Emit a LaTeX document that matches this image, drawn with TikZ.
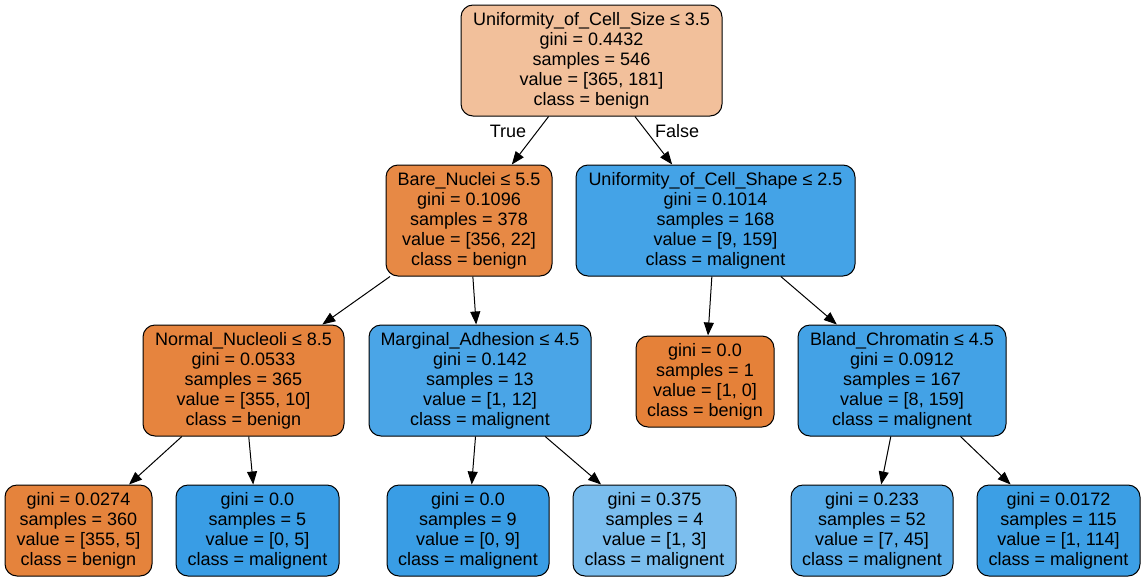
\documentclass[tikz,border=0pt]{standalone}
\usepackage{fontspec}
\setmainfont{Liberation Sans}
\usetikzlibrary{arrows.meta}
\definecolor{c0}{RGB}{242,192,155}
\definecolor{c1}{RGB}{231,137,69}
\definecolor{c2}{RGB}{68,163,231}
\definecolor{c3}{RGB}{230,132,62}
\definecolor{c4}{RGB}{74,165,231}
\definecolor{c5}{RGB}{229,129,57}
\definecolor{c6}{RGB}{67,162,230}
\definecolor{c7}{RGB}{229,131,60}
\definecolor{c8}{RGB}{57,157,229}
\definecolor{c9}{RGB}{123,190,238}
\definecolor{c10}{RGB}{88,172,233}
\definecolor{c11}{RGB}{60,159,229}
\tikzset{
  tnode/.style={draw=black, line width=1pt, rounded corners=12pt, rectangle,
    align=center, inner sep=0pt, font=\fontsize{18}{20}\selectfont},
  tedge/.style={line width=1pt, -{Triangle[length=13pt,width=10pt]}},
  elabel/.style={font=\fontsize{18}{20}\selectfont}
}
\begin{document}
\begin{tikzpicture}[x=1pt,y=-1pt]
\useasboundingbox (0,0) rectangle (1145,581);
\node[tnode, fill=c0, minimum width=261pt, minimum height=111pt] (root) at (591.5,60.5)
  {Uniformity\_of\_Cell\_Size ≤ 3.5\\gini = 0.4432\\samples = 546\\value = [365, 181]\\class = benign};
\node[tnode, fill=c1, minimum width=166pt, minimum height=111pt] (bn) at (469,220.5)
  {Bare\_Nuclei ≤ 5.5\\gini = 0.1096\\samples = 378\\value = [356, 22]\\class = benign};
\node[tnode, fill=c2, minimum width=279pt, minimum height=111pt] (ucs) at (715.5,220.5)
  {Uniformity\_of\_Cell\_Shape ≤ 2.5\\gini = 0.1014\\samples = 168\\value = [9, 159]\\class = malignent};
\node[tnode, fill=c3, minimum width=201pt, minimum height=111pt] (nn) at (243.5,380.5)
  {Normal\_Nucleoli ≤ 8.5\\gini = 0.0533\\samples = 365\\value = [355, 10]\\class = benign};
\node[tnode, fill=c4, minimum width=222pt, minimum height=111pt] (ma) at (480,380.5)
  {Marginal\_Adhesion ≤ 4.5\\gini = 0.142\\samples = 13\\value = [1, 12]\\class = malignent};
\node[tnode, fill=c5, minimum width=138pt, minimum height=91pt] (g0) at (705,381.5)
  {gini = 0.0\\samples = 1\\value = [1, 0]\\class = benign};
\node[tnode, fill=c6, minimum width=208pt, minimum height=111pt] (bc) at (902,380.5)
  {Bland\_Chromatin ≤ 4.5\\gini = 0.0912\\samples = 167\\value = [8, 159]\\class = malignent};
\node[tnode, fill=c7, minimum width=147pt, minimum height=91pt] (l1) at (78.5,530.5)
  {gini = 0.0274\\samples = 360\\value = [355, 5]\\class = benign};
\node[tnode, fill=c8, minimum width=163pt, minimum height=91pt] (l2) at (257.5,530.5)
  {gini = 0.0\\samples = 5\\value = [0, 5]\\class = malignent};
\node[tnode, fill=c8, minimum width=162pt, minimum height=91pt] (l3) at (468,530.5)
  {gini = 0.0\\samples = 9\\value = [0, 9]\\class = malignent};
\node[tnode, fill=c9, minimum width=163pt, minimum height=91pt] (l4) at (654.5,530.5)
  {gini = 0.375\\samples = 4\\value = [1, 3]\\class = malignent};
\node[tnode, fill=c10, minimum width=162pt, minimum height=91pt] (l5) at (872,530.5)
  {gini = 0.233\\samples = 52\\value = [7, 45]\\class = malignent};
\node[tnode, fill=c11, minimum width=163pt, minimum height=91pt] (l6) at (1058.5,530.5)
  {gini = 0.0172\\samples = 115\\value = [1, 114]\\class = malignent};
\draw[tedge] (root) -- (bn);
\draw[tedge] (root) -- (ucs);
\draw[tedge] (bn) -- (nn);
\draw[tedge] (bn) -- (ma);
\draw[tedge] (ucs) -- (g0);
\draw[tedge] (ucs) -- (bc);
\draw[tedge] (nn) -- (l1);
\draw[tedge] (nn) -- (l2);
\draw[tedge] (ma) -- (l3);
\draw[tedge] (ma) -- (l4);
\draw[tedge] (bc) -- (l5);
\draw[tedge] (bc) -- (l6);
\node[elabel] (tl) at (508,131) {True};
\node[elabel] (fl) at (677,131) {False};
\end{tikzpicture}
\end{document}
